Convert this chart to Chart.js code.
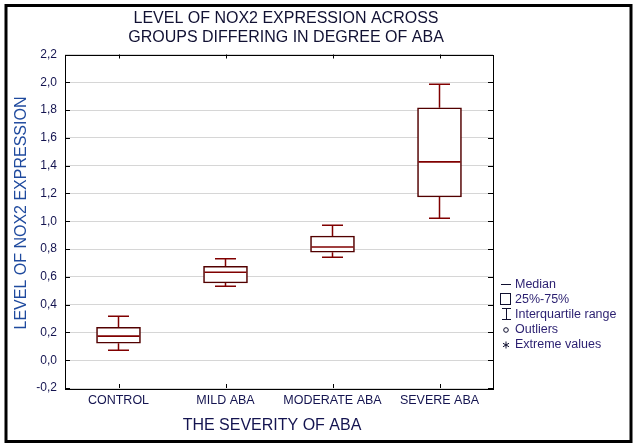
<!DOCTYPE html>
<html>
<head>
<meta charset="utf-8">
<script src="https://cdn.jsdelivr.net/npm/chart.js@4.4.1/dist/chart.umd.min.js"></script>
<style>
  html, body { margin: 0; padding: 0; background: #fff; }
  canvas { display: block; }
</style>
</head>
<body>
<canvas id="boxChart" width="637" height="446"></canvas>
<script>
// values
const groups = ['CONTROL', 'MILD ABA', 'MODERATE ABA', 'SEVERE ABA'];
const minVals = [0.072, 0.532, 0.741, 1.022];
const q1Vals = [0.122, 0.556, 0.777, 1.175];
const medianVals = [0.173, 0.633, 0.815, 1.427];
const q3Vals = [0.237, 0.676, 0.894, 1.817];
const maxVals = [0.317, 0.731, 0.971, 1.986];
const yTicks = [-0.2, 0, 0.2, 0.4, 0.6, 0.8, 1.0, 1.2, 1.4, 1.6, 1.8, 2.0, 2.2];

const legendItems = ['Median', '25%-75%', 'Interquartile range', 'Outliers', 'Extreme values'];

const FONT = '"Liberation Sans", Arial, sans-serif';
const TEXT = '#141450';

// whiskers, medians and all the extra text
const boxExtras = {
  id: 'boxExtras',
  beforeDraw(chart) {
    const c = chart.ctx;
    c.save();
    c.fillStyle = '#fff';
    c.fillRect(0, 0, chart.width, chart.height);
    c.restore();
  },
  afterDatasetsDraw(chart) {
    const c = chart.ctx;
    const x = chart.scales.x;
    const y = chart.scales.y;
    c.save();
    c.strokeStyle = '#800000';
    groups.forEach((g, i) => {
      const cx = x.getPixelForValue(i);
      // whiskers
      c.lineWidth = 1.5;
      c.beginPath();
      c.moveTo(cx, y.getPixelForValue(q3Vals[i]));
      c.lineTo(cx, y.getPixelForValue(maxVals[i]));
      c.moveTo(cx - 10.5, y.getPixelForValue(maxVals[i]));
      c.lineTo(cx + 10.5, y.getPixelForValue(maxVals[i]));
      c.moveTo(cx, y.getPixelForValue(q1Vals[i]));
      c.lineTo(cx, y.getPixelForValue(minVals[i]));
      c.moveTo(cx - 10.5, y.getPixelForValue(minVals[i]));
      c.lineTo(cx + 10.5, y.getPixelForValue(minVals[i]));
      c.stroke();
      // median
      c.lineWidth = 1.6;
      c.beginPath();
      c.moveTo(cx - 21, y.getPixelForValue(medianVals[i]));
      c.lineTo(cx + 21, y.getPixelForValue(medianVals[i]));
      c.stroke();
    });
    c.restore();
  },
  afterDraw(chart) {
    const c = chart.ctx;
    const a = chart.chartArea;
    const x = chart.scales.x;
    const y = chart.scales.y;
    c.save();

    // plot frame + inner ticks
    c.strokeStyle = '#000';
    c.lineWidth = 1;
    c.strokeRect(Math.round(a.left) + 0.5, Math.round(a.top) + 0.5,
      Math.round(a.right - a.left), Math.round(a.bottom - a.top));
    c.beginPath();
    yTicks.forEach(v => {
      const py = Math.round(y.getPixelForValue(v)) + 0.5;
      c.moveTo(a.left, py); c.lineTo(a.left + 5, py);
      c.moveTo(a.right, py); c.lineTo(a.right - 5, py);
    });
    groups.forEach((g, i) => {
      const px = Math.round(x.getPixelForValue(i)) + 0.5;
      c.moveTo(px, a.bottom); c.lineTo(px, a.bottom - 4);
      c.moveTo(px, a.top); c.lineTo(px, a.top + 4);
    });
    c.stroke();

    // title
    c.fillStyle = '#111133';
    c.font = '16px ' + FONT;
    c.textAlign = 'center';
    c.textBaseline = 'middle';
    c.fillText('LEVEL OF NOX2 EXPRESSION ACROSS', 286, 19);
    c.fillText('GROUPS DIFFERING IN DEGREE OF ABA', 286, 38);

    // axis titles
    c.fillStyle = TEXT;
    c.fillText('THE SEVERITY OF ABA', 272, 426);
    c.save();
    c.translate(22, 213);
    c.rotate(-Math.PI / 2);
    c.fillStyle = '#1f4a9e';
    c.fillText('LEVEL OF NOX2 EXPRESSION', 0, 0);
    c.restore();

    // legend
    const lx = 506, ys = [284, 299, 314, 329, 344];
    c.strokeStyle = '#101030';
    c.fillStyle = '#101030';
    c.lineWidth = 1;
    c.beginPath();
    c.moveTo(501, ys[0] + 0.5); c.lineTo(511, ys[0] + 0.5);
    c.stroke();
    c.strokeRect(500.5, ys[1] - 5.5, 10, 11);
    c.beginPath();
    c.moveTo(502, ys[2] - 5.5); c.lineTo(511, ys[2] - 5.5);
    c.moveTo(lx + 0.5, ys[2] - 5.5); c.lineTo(lx + 0.5, ys[2] + 5.5);
    c.moveTo(502, ys[2] + 5.5); c.lineTo(511, ys[2] + 5.5);
    c.stroke();
    c.beginPath();
    c.arc(lx, ys[3] + 1, 2.3, 0, Math.PI * 2);
    c.stroke();
    c.beginPath();
    for (let k = 0; k < 3; k++) {
      const ang = k * Math.PI / 3 + Math.PI / 2;
      c.moveTo(lx - 3.5 * Math.cos(ang), ys[4] + 1 - 3.5 * Math.sin(ang));
      c.lineTo(lx + 3.5 * Math.cos(ang), ys[4] + 1 + 3.5 * Math.sin(ang));
    }
    c.stroke();
    c.fillStyle = '#2a1f70';
    c.font = '12.5px ' + FONT;
    c.textAlign = 'left';
    legendItems.forEach((t, k) => c.fillText(t, 515, ys[k] + 1));

    // outer frame
    c.strokeStyle = '#000';
    c.lineWidth = 3;
    c.strokeRect(6, 5.5, 625, 436);
    c.restore();
  }
};

const ctx = document.getElementById('boxChart').getContext('2d');

const boxChart = new Chart(ctx, {
  type: 'bar',
  data: {
    labels: groups,
    datasets: [{
      label: '25%-75%',
      data: groups.map((g, i) => [q1Vals[i], q3Vals[i]]),
      backgroundColor: '#fff',
      borderColor: '#520000',
      borderWidth: 1.6,
      borderSkipped: false,
      barThickness: 44
    }]
  },
  options: {
    responsive: false,
    animation: false,
    devicePixelRatio: 1,
    layout: { padding: { top: 54.5, right: 144, bottom: 0, left: 0 } },
    scales: {
      x: {
        grid: { display: false, drawTicks: false },
        border: { display: false },
        ticks: { color: TEXT, font: { family: FONT, size: 12.5 }, padding: 5, maxRotation: 0 },
        afterFit: s => { s.height = 58; }
      },
      y: {
        min: -0.2,
        max: 2.2,
        afterBuildTicks: s => { s.ticks = yTicks.map(v => ({ value: v })); },
        grid: { color: '#d6d6d6', drawTicks: false },
        border: { display: false },
        ticks: {
          color: TEXT,
          font: { family: FONT, size: 12 },
          padding: 8,
          callback: v => v.toFixed(1).replace('.', ',')
        },
        afterFit: s => { s.width = 65; }
      }
    },
    plugins: {
      legend: { display: false },
      title: { display: false },
      tooltip: { enabled: false }
    }
  },
  plugins: [boxExtras]
});
</script>
</body>
</html>
